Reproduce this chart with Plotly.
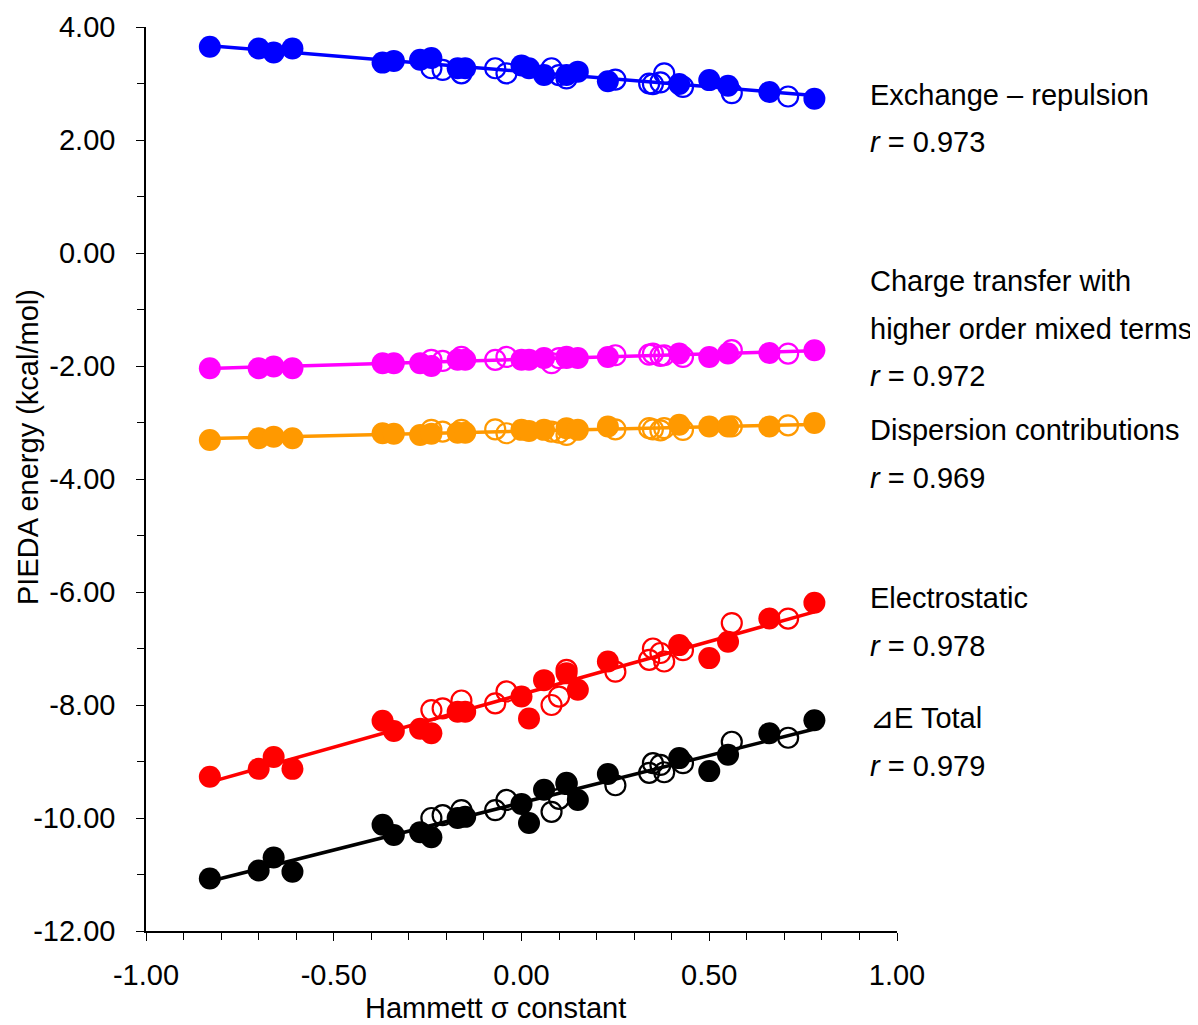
import numpy as np
import plotly.graph_objects as go

# Hammett sigma constants (shared x positions)
sigma_filled = [-0.83, -0.70, -0.66, -0.61, -0.37, -0.34, -0.27, -0.24, -0.17, -0.15,
                0.00, 0.02, 0.06, 0.12, 0.15, 0.23, 0.42, 0.50, 0.55, 0.66, 0.78]
sigma_open = [-0.24, -0.21, -0.16, -0.07, -0.04, 0.08, 0.10, 0.12, 0.25, 0.34,
              0.35, 0.37, 0.38, 0.43, 0.56, 0.71]

exch_filled = [3.65, 3.62, 3.55, 3.62, 3.37, 3.40, 3.42, 3.45, 3.27, 3.27,
               3.32, 3.27, 3.15, 3.15, 3.21, 3.04, 2.99, 3.06, 2.96, 2.85, 2.73]
exch_open = [3.27, 3.24, 3.18, 3.27, 3.18, 3.27, 3.15, 3.09, 3.07, 3.00,
             2.99, 3.02, 3.18, 2.94, 2.83, 2.77]

ct_filled = [-2.04, -2.04, -2.01, -2.04, -1.95, -1.95, -1.95, -2.00, -1.89, -1.89,
             -1.89, -1.89, -1.86, -1.86, -1.86, -1.84, -1.78, -1.84, -1.78, -1.77, -1.72]
ct_open = [-1.89, -1.91, -1.84, -1.89, -1.84, -1.95, -1.86, -1.84, -1.81, -1.80,
           -1.78, -1.82, -1.81, -1.84, -1.72, -1.78]

disp_filled = [-3.31, -3.28, -3.25, -3.28, -3.19, -3.20, -3.22, -3.20, -3.18, -3.18,
               -3.13, -3.15, -3.13, -3.10, -3.13, -3.07, -3.04, -3.07, -3.07, -3.07, -3.01]
disp_open = [-3.13, -3.16, -3.13, -3.12, -3.19, -3.16, -3.18, -3.22, -3.12, -3.10,
             -3.12, -3.14, -3.10, -3.13, -3.07, -3.05]

es_filled = [-9.27, -9.13, -8.92, -9.13, -8.28, -8.46, -8.42, -8.50, -8.12, -8.12,
             -7.85, -8.24, -7.56, -7.44, -7.73, -7.23, -6.94, -7.17, -6.88, -6.47, -6.19]
es_open = [-8.09, -8.06, -7.92, -7.97, -7.76, -8.00, -7.85, -7.38, -7.41, -7.20,
           -7.00, -7.08, -7.23, -7.03, -6.55, -6.47]

tot_filled = [-11.07, -10.93, -10.70, -10.95, -10.12, -10.30, -10.25, -10.34, -10.00, -9.98,
              -9.75, -10.09, -9.50, -9.40, -9.68, -9.22, -8.94, -9.17, -8.88, -8.50, -8.27]
tot_open = [-10.00, -9.95, -9.86, -9.86, -9.68, -9.89, -9.66, -9.38, -9.42, -9.20,
            -9.03, -9.06, -9.19, -9.03, -8.65, -8.58]

x_tickvals = [-1.0, -0.5, 0.0, 0.5, 1.0]
x_ticktext = ["-1.00", "-0.50", "0.00", "0.50", "1.00"]
y_tickvals = [-12, -10, -8, -6, -4, -2, 0, 2, 4]
y_ticktext = ["-12.00", "-10.00", "-8.00", "-6.00", "-4.00", "-2.00", "0.00", "2.00", "4.00"]

series_names = [["Exchange – repulsion"],
                ["Charge transfer with", "higher order mixed terms"],
                ["Dispersion contributions"], ["Electrostatic"], ["⊿E Total"]]
r_values = ["0.973", "0.972", "0.969", "0.978", "0.979"]
colors = ["#0000FF", "#FF00FF", "#FF9900", "#FF0000", "#000000"]
filled_sets = [exch_filled, ct_filled, disp_filled, es_filled, tot_filled]
open_sets = [exch_open, ct_open, disp_open, es_open, tot_open]

FONT = "Liberation Sans, Arial, sans-serif"
FS = 29

# page body has an 8px margin: work in screen pixels and subtract it
OFF = 8
W, H = 1198, 1025
L, R, T, B = 146 - OFF, 897 - OFF, 27 - OFF, 931 - OFF


def px_x(sx):
    return (sx - OFF - L) / (R - L)


def px_y(sy):
    return (B - (sy - OFF)) / (B - T)


label_sy = [[95], [281, 329], [430], [598], [718]]
r_label_sy = [142, 376, 478, 646, 766]

fig = go.Figure()
for i in range(5):
    xs = np.array(sigma_filled + sigma_open)
    ys = np.array(filled_sets[i] + open_sets[i])
    m, b = np.polyfit(xs, ys, 1)
    xl = np.array([xs.min(), xs.max()])
    fig.add_trace(go.Scatter(x=xl, y=m * xl + b, mode="lines",
                             line=dict(color=colors[i], width=3.5), showlegend=False,
                             hoverinfo="skip"))
    fig.add_trace(go.Scatter(x=sigma_open, y=open_sets[i], mode="markers",
                             marker=dict(symbol="circle-open", size=20, color=colors[i],
                                         line=dict(width=2.2, color=colors[i])),
                             showlegend=False))
    fig.add_trace(go.Scatter(x=sigma_filled, y=filled_sets[i], mode="markers",
                             marker=dict(symbol="circle", size=22, color=colors[i],
                                         line=dict(width=0)),
                             showlegend=False))

annotations = []
lx = px_x(868)
for i in range(5):
    for txt, sy in zip(series_names[i], label_sy[i]):
        annotations.append(dict(x=lx, xref="paper", y=px_y(sy), yref="paper",
                                text=txt, showarrow=False, xanchor="left",
                                yanchor="middle", align="left",
                                font=dict(family=FONT, size=FS, color="black")))
    annotations.append(dict(x=lx, xref="paper", y=px_y(r_label_sy[i]), yref="paper",
                            text="<i>r</i> = " + r_values[i], showarrow=False,
                            xanchor="left", yanchor="middle",
                            font=dict(family=FONT, size=FS, color="black")))

annotations.append(dict(x=px_x(28), xref="paper", y=px_y(447), yref="paper",
                        text="PIEDA energy (kcal/mol)", textangle=-90, showarrow=False,
                        xanchor="center", yanchor="middle",
                        font=dict(family=FONT, size=FS, color="black")))
annotations.append(dict(x=px_x(495), xref="paper", y=px_y(1008), yref="paper",
                        text="Hammett σ constant", showarrow=False,
                        xanchor="center", yanchor="middle",
                        font=dict(family=FONT, size=FS, color="black")))

fig.update_layout(
    width=W, height=H,
    margin=dict(l=L, r=W - R, t=T, b=H - B, autoexpand=False),
    plot_bgcolor="white", paper_bgcolor="white",
    annotations=annotations,
    xaxis=dict(range=[-1, 1], tickvals=x_tickvals, ticktext=x_ticktext, automargin=False,
               showgrid=False, zeroline=False, showline=True, linecolor="black",
               linewidth=1.5, ticks="outside", ticklen=8, tickcolor="black",
               ticklabelstandoff=9,
               minor=dict(dtick=0.1, ticks="outside", ticklen=7, tickcolor="black"),
               tickfont=dict(family=FONT, size=FS, color="black")),
    yaxis=dict(range=[-12, 4], tickvals=y_tickvals, ticktext=y_ticktext, automargin=False,
               showgrid=False, zeroline=False, showline=True, linecolor="black",
               linewidth=1.5, ticks="outside", ticklen=8, tickcolor="black",
               ticklabelstandoff=15,
               minor=dict(dtick=1, ticks="outside", ticklen=7, tickcolor="black"),
               tickfont=dict(family=FONT, size=FS, color="black")),
)
fig.write_html("out.html")
